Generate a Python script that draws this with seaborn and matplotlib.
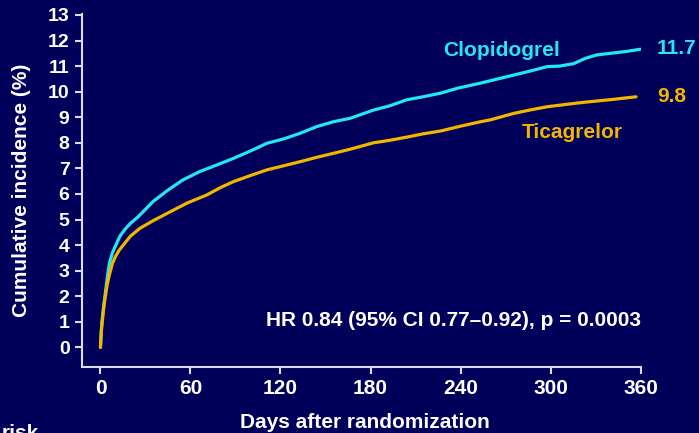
import seaborn as sns
import matplotlib.pyplot as plt
import pandas as pd

# values (days, cumulative incidence %)
clop_days = [0, 0.5, 1, 2, 3, 4.5, 6, 8, 10.8, 13, 16.4, 20, 25, 30, 35, 45, 55, 66, 77, 88.6,
             100, 110.9, 122, 133, 144, 155, 166.5, 182, 193, 204, 215, 226.6, 237.7, 253, 260,
             275.5, 286, 297.8, 306, 315.6, 323, 331, 340, 350, 360]
clop_vals = [0, 0.6, 1.0, 1.55, 2.0, 2.7, 3.3, 3.7, 4.07, 4.35, 4.62, 4.85, 5.1, 5.4, 5.7, 6.15,
             6.55, 6.87, 7.12, 7.39, 7.68, 7.98, 8.15, 8.37, 8.63, 8.82, 8.96, 9.28, 9.45, 9.68,
             9.8, 9.94, 10.13, 10.33, 10.43, 10.65, 10.8, 10.98, 11.0, 11.1, 11.3, 11.44, 11.5,
             11.57, 11.66]

tica_days = [0, 0.5, 1, 2, 3, 4.5, 6, 8.1, 10, 12.5, 15.2, 20, 26.4, 35, 46.4, 58, 70.9, 80,
             88.6, 100, 110.9, 122, 133, 144, 155.4, 166.5, 182, 193, 204, 215, 226.6, 240, 253,
             260, 275.5, 286, 297.8, 310, 320, 330, 342, 357]
tica_vals = [0, 0.55, 0.9, 1.45, 1.9, 2.45, 2.85, 3.3, 3.55, 3.8, 4.0, 4.35, 4.66, 4.95, 5.3,
             5.65, 5.96, 6.25, 6.48, 6.72, 6.94, 7.1, 7.26, 7.43, 7.59, 7.75, 8.0, 8.1, 8.22, 8.35,
             8.46, 8.65, 8.82, 8.9, 9.15, 9.28, 9.41, 9.5, 9.57, 9.63, 9.7, 9.8]

x_ticks = [0, 60, 120, 180, 240, 300, 360]
y_ticks = list(range(0, 14))
hr_text = 'HR 0.84 (95% CI 0.77\u20130.92), p = 0.0003'

bg = '#00005a'
cyan = '#22e8f2'
gold = '#f2b600'
fg = '#ffffff'
axis_col = '#dcdce8'

df = pd.concat([
    pd.DataFrame({'day': clop_days, 'inc': clop_vals, 'arm': 'Clopidogrel'}),
    pd.DataFrame({'day': tica_days, 'inc': tica_vals, 'arm': 'Ticagrelor'}),
])

sns.set_theme(style='ticks')
plt.rcParams['font.family'] = ['Liberation Sans', 'DejaVu Sans']
plt.rcParams['font.weight'] = 'bold'

W, H = 699, 433
fig = plt.figure(figsize=(W / 100, H / 100), dpi=100, facecolor=bg)
ax = fig.add_axes([82 / W, 1 - 366.5 / H, (641 - 82) / W, (366.5 - 13.7) / H])
ax.set_facecolor(bg)

sns.lineplot(data=df, x='day', y='inc', hue='arm', palette={'Clopidogrel': cyan, 'Ticagrelor': gold},
             estimator=None, sort=False, linewidth=2.3, legend=False, ax=ax)

ax.set_xlim(-12.3, 360.3)
ax.set_ylim(-0.75, 13.05)
ax.set_xticks(x_ticks)
ax.set_yticks(y_ticks)
ax.set_xticklabels([str(t) for t in x_ticks], fontsize=15, fontweight='bold', color=fg)
ax.set_yticklabels([str(t) for t in y_ticks], fontsize=14, fontweight='bold', color=fg)
ax.tick_params(axis='both', colors=axis_col, width=1.5, length=5)
ax.tick_params(axis='x', pad=4, labelcolor=fg)
ax.tick_params(axis='y', pad=4, labelcolor=fg)

for side in ['top', 'right']:
    ax.spines[side].set_visible(False)
for side in ['left', 'bottom']:
    ax.spines[side].set_color(axis_col)
    ax.spines[side].set_linewidth(1.5)

ax.set_xlabel('')
ax.set_ylabel('')
fig.text(22 / W, 1 - 190 / H, 'Cumulative incidence (%)', rotation=90, ha='center', va='center',
         fontsize=15, fontweight='bold', color=fg)
fig.text(365 / W, 1 - 423 / H, 'Days after randomization', ha='center', va='center',
         fontsize=15, fontweight='bold', color=fg)

fig.text(502 / W, 1 - 51 / H, 'Clopidogrel', ha='center', va='center', fontsize=15,
         fontweight='bold', color=cyan)
fig.text(657 / W, 1 - 49 / H, '11.7', ha='left', va='center', fontsize=15,
         fontweight='bold', color=cyan)
fig.text(572 / W, 1 - 133 / H, 'Ticagrelor', ha='center', va='center', fontsize=15,
         fontweight='bold', color=gold)
fig.text(657 / W, 1 - 97 / H, '9.8', ha='left', va='center', fontsize=15,
         fontweight='bold', color=gold)
fig.text(266 / W, 1 - 321 / H, hr_text, ha='left', va='center', fontsize=15,
         fontweight='bold', color=fg)
fig.text(2 / W, 1 - 424 / H, 'risk', ha='left', va='top', fontsize=15,
         fontweight='bold', color=fg)

fig.savefig('out.png', dpi=100, facecolor=bg)
